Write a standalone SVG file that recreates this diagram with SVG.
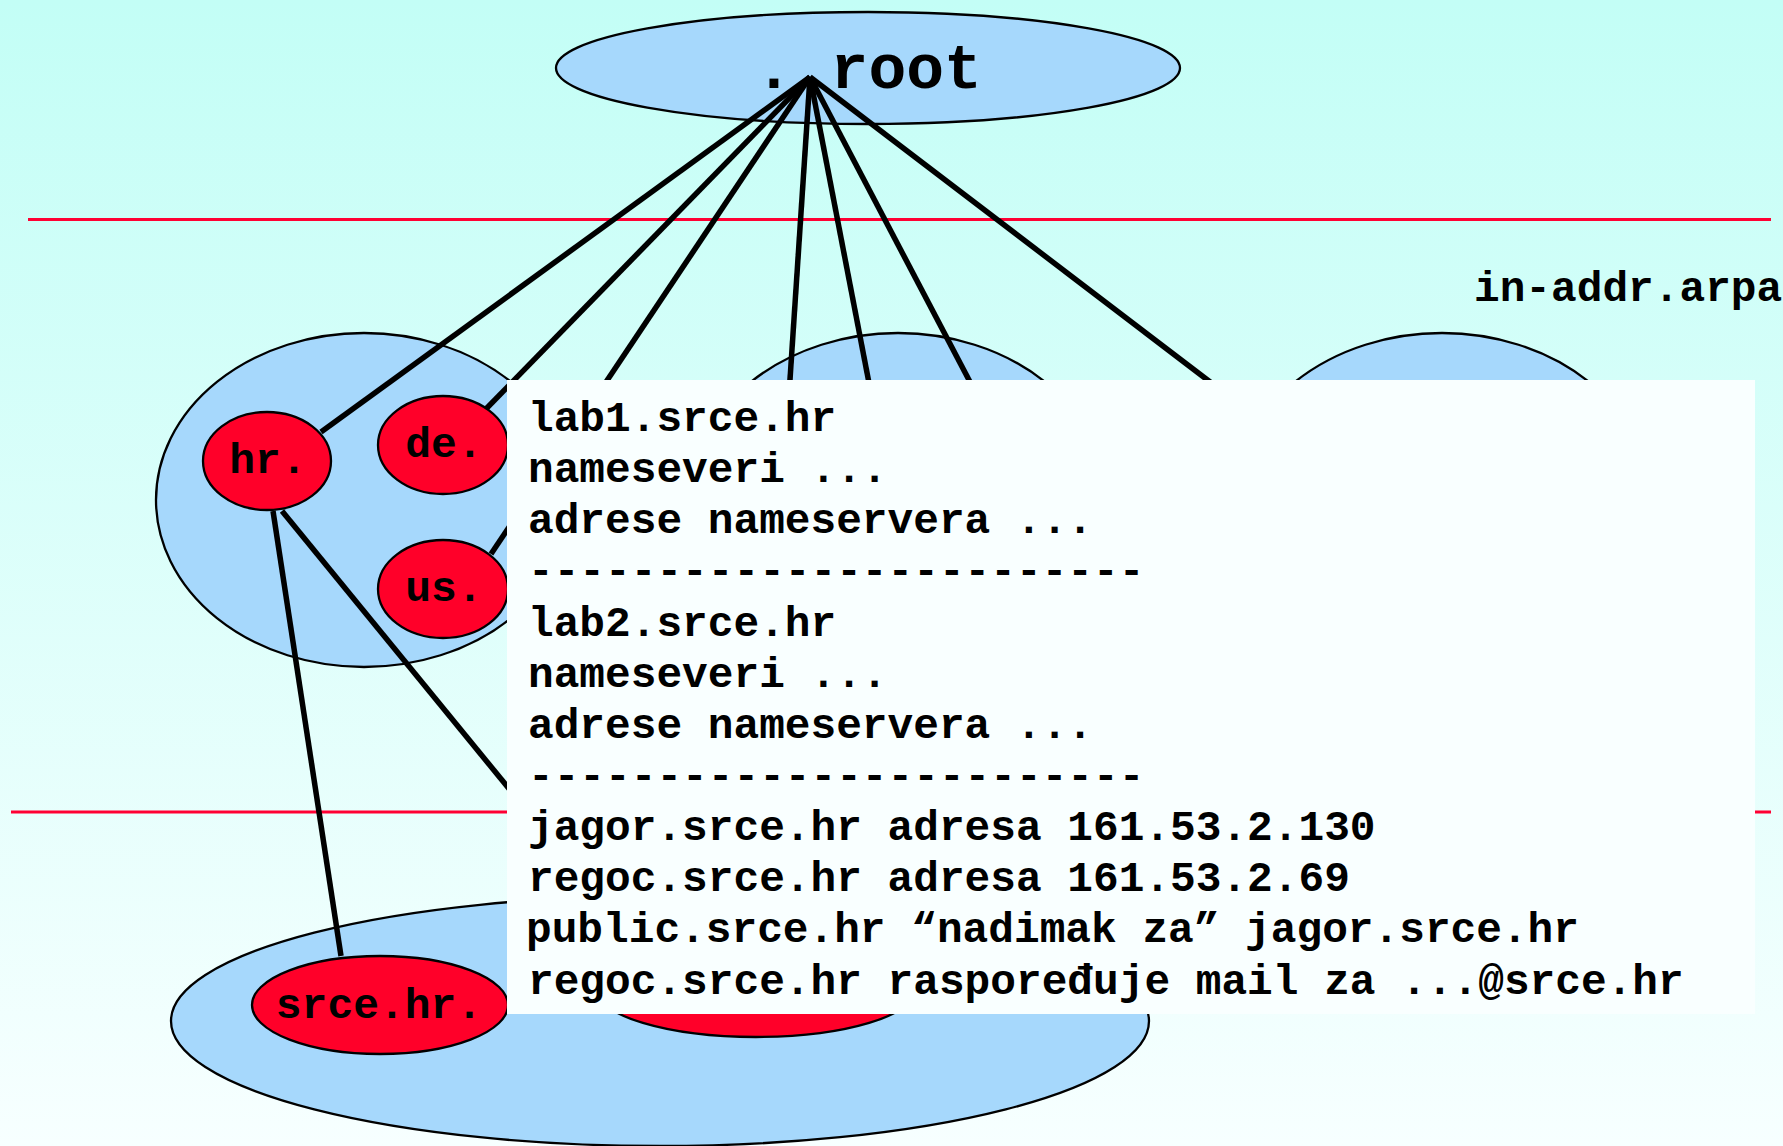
<svg xmlns="http://www.w3.org/2000/svg" width="1783" height="1146" viewBox="0 0 1783 1146">
<defs>
<linearGradient id="bg" x1="0" y1="0" x2="0" y2="1">
<stop offset="0" stop-color="#C3FEF6"/>
<stop offset="1" stop-color="#F7FFFF"/>
</linearGradient>
</defs>
<style>
.zone{fill:#A6D8FC;stroke:#000;stroke-width:2.3}
.node{fill:#FF0029;stroke:#000;stroke-width:2.3}
.conn{stroke:#000;stroke-width:5.5;fill:none;stroke-linecap:butt}
.sep{stroke:#FF0033;stroke-width:3}
.t{font-family:"Liberation Mono","Courier New",monospace;font-weight:bold;fill:#000}
.nt{font-size:43px;text-anchor:middle}
.bt{font-size:42.8px}
</style>
<rect x="0" y="0" width="1783" height="1146" fill="url(#bg)"/>
<g id="separators">
<line class="sep" x1="28" y1="219.5" x2="1771" y2="219.5"/>
<line class="sep" x1="11" y1="812" x2="1771" y2="812"/>
</g>
<g id="zones">
<ellipse id="zone-root" class="zone" cx="868" cy="68" rx="312" ry="56"/>
<ellipse id="zone-tld" class="zone" cx="364" cy="500" rx="208" ry="167"/>
<ellipse id="zone-mid" class="zone" cx="898" cy="500" rx="208" ry="167"/>
<ellipse id="zone-arpa" class="zone" cx="1442" cy="500" rx="208" ry="167"/>
<ellipse id="zone-srce" class="zone" cx="660" cy="1021" rx="489" ry="125"/>
</g>
<g id="connectors">
<line class="conn" x1="810" y1="77" x2="321" y2="432"/>
<line class="conn" x1="810" y1="77" x2="482" y2="413"/>
<line class="conn" x1="810" y1="77" x2="491" y2="554"/>
<line class="conn" x1="810" y1="77" x2="786" y2="440"/>
<line class="conn" x1="810" y1="77" x2="880" y2="440"/>
<line class="conn" x1="810" y1="77" x2="990" y2="420"/>
<line class="conn" x1="810" y1="77" x2="1260" y2="420"/>
<line class="conn" x1="273" y1="511" x2="341" y2="956"/>
<line class="conn" x1="282" y1="511" x2="600" y2="900"/>
</g>
<g id="node-root"><text class="t" x="755" y="88" font-size="63">. root</text></g>
<g id="node-hr"><ellipse class="node" cx="267" cy="461" rx="64" ry="49"/><text class="t nt" x="268" y="473">hr.</text></g>
<g id="node-de"><ellipse class="node" cx="443" cy="445" rx="65" ry="49"/><text class="t nt" x="444" y="457">de.</text></g>
<g id="node-us"><ellipse class="node" cx="443" cy="589" rx="65" ry="49"/><text class="t nt" x="444" y="601">us.</text></g>
<g id="node-hidden"><ellipse class="node" cx="756" cy="989" rx="160" ry="48"/></g>
<g id="node-srce"><ellipse class="node" cx="380" cy="1005" rx="128" ry="49"/><text class="t nt" x="379" y="1018">srce.hr.</text></g>
<g id="label-arpa"><text class="t bt" x="1474" y="301">in-addr.arpa</text></g>
<g id="records">
<rect x="507" y="380" width="1248" height="634" fill="#F9FFFF"/>
<text class="t bt" x="528" y="431">lab1.srce.hr</text>
<text class="t bt" x="528" y="482">nameseveri ...</text>
<text class="t bt" x="528" y="533">adrese nameservera ...</text>
<text class="t bt" x="528" y="584">------------------------</text>
<text class="t bt" x="528" y="636">lab2.srce.hr</text>
<text class="t bt" x="528" y="687">nameseveri ...</text>
<text class="t bt" x="528" y="738">adrese nameservera ...</text>
<text class="t bt" x="528" y="789">------------------------</text>
<text class="t bt" x="528" y="840">jagor.srce.hr adresa 161.53.2.130</text>
<text class="t bt" x="528" y="891">regoc.srce.hr adresa 161.53.2.69</text>
<text class="t bt" x="526" y="942">public.srce.hr “nadimak za” jagor.srce.hr</text>
<text class="t bt" x="528" y="994">regoc.srce.hr raspoređuje mail za ...@srce.hr</text>
</g>
</svg>
